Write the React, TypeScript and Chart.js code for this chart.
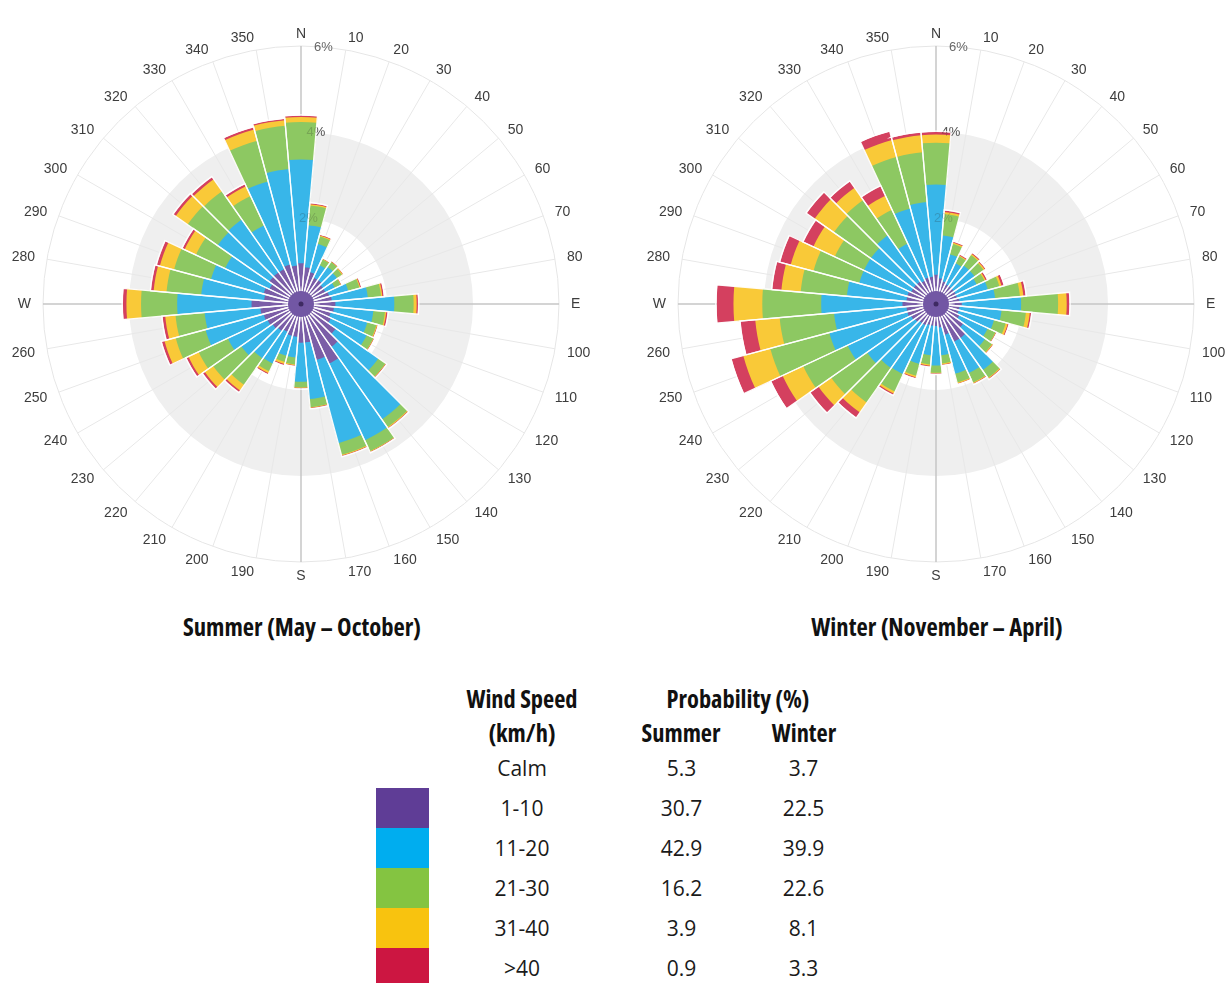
import React, { useEffect, useRef } from 'react';
import { Chart, registerables } from 'chart.js';

Chart.register(...registerables);

// ---------- data ----------
const DIRECTION_LABELS = [
  'N', '10', '20', '30', '40', '50', '60', '70', '80', 'E',
  '100', '110', '120', '130', '140', '150', '160', '170', 'S',
  '190', '200', '210', '220', '230', '240', '250', '260', 'W',
  '280', '290', '300', '310', '320', '330', '340', '350',
];

const SPEED_BANDS = ['1-10', '11-20', '21-30', '31-40', '>40'];
const TICK_VALUES = [2, 4, 6];

// Summer (May – October), % per direction and speed band
const SUMMER_1_10 = [0.95, 0.86, 0.77, 0.68, 0.68, 0.63, 0.63, 0.68, 0.72, 0.80, 0.77, 0.72, 0.77, 0.99, 1.22, 1.53, 1.35, 0.90, 0.90, 0.77, 0.77, 0.72, 0.77, 0.81, 0.86, 0.90, 0.95, 1.15, 0.86, 0.90, 0.81, 0.90, 0.90, 0.90, 0.95, 0.90];
const SUMMER_11_20 = [2.41, 0.98, 0.68, 0.32, 0.38, 0.40, 0.24, 0.46, 0.84, 1.37, 0.92, 0.88, 0.92, 1.21, 2.06, 1.97, 2.00, 1.32, 0.91, 0.48, 0.48, 0.81, 0.78, 0.89, 1.02, 1.40, 1.30, 1.73, 1.47, 1.27, 1.14, 1.47, 1.50, 1.12, 2.00, 2.25];
const SUMMER_21_30 = [0.87, 0.46, 0.18, 0.15, 0.14, 0.14, 0.15, 0.27, 0.31, 0.45, 0.27, 0.22, 0.17, 0.20, 0.22, 0.28, 0.28, 0.19, 0.13, 0.16, 0.15, 0.20, 0.75, 0.80, 0.75, 0.72, 0.68, 0.84, 0.81, 0.89, 0.75, 0.85, 0.80, 0.75, 0.98, 1.01];
const SUMMER_31_40 = [0.12, 0.03, 0.02, 0.01, 0.01, 0.02, 0.01, 0.02, 0.03, 0.07, 0.03, 0.02, 0.01, 0.01, 0.02, 0.01, 0.02, 0.01, 0.01, 0.02, 0.05, 0.05, 0.16, 0.24, 0.26, 0.27, 0.24, 0.34, 0.30, 0.34, 0.29, 0.34, 0.34, 0.25, 0.27, 0.13];
const SUMMER_OVER_40 = [0.03, 0.02, 0.02, 0.01, 0.01, 0.01, 0.01, 0.02, 0.03, 0.03, 0.03, 0.01, 0.01, 0.01, 0.01, 0.01, 0.01, 0.01, 0.01, 0.01, 0.02, 0.02, 0.04, 0.05, 0.05, 0.06, 0.06, 0.08, 0.06, 0.07, 0.05, 0.06, 0.06, 0.05, 0.05, 0.03];

// Winter (November – April)
const WINTER_1_10 = [0.68, 0.60, 0.55, 0.51, 0.51, 0.51, 0.51, 0.51, 0.55, 0.60, 0.55, 0.55, 0.60, 0.78, 0.97, 0.97, 0.74, 0.55, 0.51, 0.51, 0.51, 0.55, 0.55, 0.60, 0.64, 0.69, 0.69, 0.78, 0.69, 0.69, 0.64, 0.64, 0.64, 0.60, 0.64, 0.64];
const WINTER_11_20 = [2.10, 1.00, 0.65, 0.54, 0.59, 0.59, 0.54, 0.74, 0.83, 1.38, 0.98, 0.85, 0.73, 0.62, 0.91, 0.81, 0.94, 0.65, 0.92, 0.69, 0.94, 1.25, 1.27, 1.36, 1.63, 1.88, 1.69, 1.89, 1.39, 1.16, 1.21, 1.21, 1.31, 0.95, 1.66, 1.74];
const WINTER_21_30 = [0.97, 0.50, 0.25, 0.18, 0.30, 0.26, 0.20, 0.28, 0.58, 0.86, 0.57, 0.28, 0.20, 0.20, 0.22, 0.24, 0.21, 0.19, 0.17, 0.21, 0.28, 0.45, 0.98, 1.02, 1.14, 1.42, 1.27, 1.37, 1.08, 1.10, 0.75, 1.05, 1.00, 0.87, 1.24, 1.16];
const WINTER_31_40 = [0.19, 0.05, 0.03, 0.02, 0.03, 0.03, 0.03, 0.05, 0.08, 0.20, 0.09, 0.05, 0.01, 0.02, 0.02, 0.02, 0.02, 0.02, 0.01, 0.03, 0.04, 0.05, 0.28, 0.36, 0.53, 0.65, 0.57, 0.67, 0.45, 0.55, 0.55, 0.55, 0.35, 0.36, 0.41, 0.40];
const WINTER_OVER_40 = [0.06, 0.03, 0.02, 0.02, 0.02, 0.02, 0.03, 0.05, 0.05, 0.06, 0.03, 0.02, 0.01, 0.01, 0.01, 0.01, 0.01, 0.01, 0.01, 0.02, 0.02, 0.03, 0.14, 0.23, 0.29, 0.28, 0.34, 0.39, 0.21, 0.25, 0.25, 0.22, 0.18, 0.24, 0.20, 0.06];

// table
const TABLE_SPEEDS = ['Calm', '1-10', '11-20', '21-30', '31-40', '>40'];
const TABLE_SUMMER = ['5.3', '30.7', '42.9', '16.2', '3.9', '0.9'];
const TABLE_WINTER = ['3.7', '22.5', '39.9', '22.6', '8.1', '3.3'];

// ---------- styles ----------
const BAR_COLORS = ['#7b5ea7', '#38b6e9', '#8dc862', '#f9c938', '#d4405f'];
const SWATCH_COLORS = ['#5f3d96', '#00adef', '#84c441', '#f8c30f', '#cc1641'];

const roseDecor = {
  id: 'roseDecor',
  beforeDatasetsDraw(chart: any) {
    const scale = chart.scales.r;
    const ctx = chart.ctx;
    const cx = scale.xCenter;
    const cy = scale.yCenter;
    const r2 = scale.getDistanceFromCenterForValue(2);
    const r4 = scale.getDistanceFromCenterForValue(4);
    const r6 = scale.getDistanceFromCenterForValue(6);
    const labels: string[] = chart.data.labels;
    const step = (Math.PI * 2) / labels.length;
    ctx.save();
    // plot band 2%–4%
    ctx.beginPath();
    ctx.arc(cx, cy, r4, 0, Math.PI * 2);
    ctx.arc(cx, cy, r2, 0, Math.PI * 2, true);
    ctx.fillStyle = '#efefef';
    ctx.fill('evenodd');
    // outer circle
    ctx.beginPath();
    ctx.arc(cx, cy, r6, 0, Math.PI * 2);
    ctx.strokeStyle = '#e6e6e6';
    ctx.lineWidth = 1;
    ctx.stroke();
    // radial lines
    labels.forEach((_l, i) => {
      const a = scale.getIndexAngle(i) + step / 2 - Math.PI / 2;
      const main = i % 9 === 0;
      ctx.beginPath();
      ctx.moveTo(cx, cy);
      ctx.lineTo(cx + Math.cos(a) * r6, cy + Math.sin(a) * r6);
      ctx.strokeStyle = main ? '#c6c6c6' : '#e8e8e8';
      ctx.lineWidth = main ? 1.5 : 1;
      ctx.stroke();
    });
    // direction labels
    ctx.font = '14px "Liberation Sans", Arial, sans-serif';
    ctx.fillStyle = '#3d3d3d';
    ctx.textBaseline = 'middle';
    labels.forEach((lab, i) => {
      const a = scale.getIndexAngle(i) + step / 2 - Math.PI / 2;
      const rr = r6 + 12;
      const x = cx + Math.cos(a) * rr;
      const y = cy + Math.sin(a) * rr;
      const dir = i * 10;
      ctx.textAlign = dir === 0 || dir === 180 ? 'center' : dir < 180 ? 'left' : 'right';
      ctx.fillText(lab, x, y + (dir > 90 && dir < 270 ? 2 : 0));
    });
    // tick labels
    ctx.font = '13px "Liberation Sans", Arial, sans-serif';
    ctx.fillStyle = '#666666';
    ctx.textAlign = 'center';
    TICK_VALUES.forEach((v) => {
      const p = scale.getPointPositionForValue(1, v);
      ctx.fillText(v + '%', p.x, p.y);
    });
    ctx.restore();
  },
  afterDatasetsDraw(chart: any) {
    const scale = chart.scales.r;
    const ctx = chart.ctx;
    ctx.save();
    // hub where the spokes meet
    ctx.beginPath();
    ctx.arc(scale.xCenter, scale.yCenter, 13, 0, Math.PI * 2);
    ctx.fillStyle = '#7257a4';
    ctx.fill();
    ctx.beginPath();
    ctx.arc(scale.xCenter, scale.yCenter, 2.5, 0, Math.PI * 2);
    ctx.fillStyle = '#3e2a62';
    ctx.fill();
    ctx.font = '13px "Liberation Sans", Arial, sans-serif';
    ctx.fillStyle = 'rgba(40,40,40,0.22)';
    ctx.textAlign = 'center';
    ctx.textBaseline = 'middle';
    TICK_VALUES.slice(0, 2).forEach((v) => {
      const p = scale.getPointPositionForValue(1, v);
      ctx.fillText(v + '%', p.x, p.y);
    });
    ctx.restore();
  },
};

function cumulative(bands: number[][]): number[][] {
  const out: number[][] = [];
  let run = bands[0].map(() => 0);
  bands.forEach((b) => {
    run = run.map((v, i) => v + b[i]);
    out.push(run.slice());
  });
  return out;
}

function WindRose({ bands, left, top }: { bands: number[][]; left: number; top: number }) {
  const ref = useRef<HTMLCanvasElement | null>(null);
  useEffect(() => {
    if (!ref.current) return;
    const cum = cumulative(bands);
    const totals = cum[cum.length - 1];
    const datasets: any[] = cum.map((d, k) => ({
      label: SPEED_BANDS[k],
      data: d,
      backgroundColor: BAR_COLORS[k],
      borderWidth: 0,
      order: k + 1,
    }));
    datasets.push({
      label: 'gap',
      data: totals.map((t) => t + 0.02),
      backgroundColor: 'rgba(0,0,0,0)',
      borderColor: 'rgba(255,255,255,0.95)',
      borderWidth: 1.3,
      borderJoinStyle: 'miter',
      order: 0,
    });
    const chart = new Chart(ref.current, {
      type: 'polarArea',
      data: { labels: DIRECTION_LABELS, datasets },
      options: {
        responsive: false,
        animation: false,
        devicePixelRatio: 1,
        events: [],
        layout: { padding: 42 },
        plugins: { legend: { display: false }, tooltip: { enabled: false } },
        scales: {
          r: {
            min: 0,
            max: 6,
            startAngle: -5,
            ticks: { display: false, stepSize: 2 },
            grid: { display: false },
            angleLines: { display: false },
            pointLabels: { display: false },
          },
        },
      } as any,
      plugins: [roseDecor],
    });
    return () => chart.destroy();
  }, [bands]);
  return (
    <canvas
      ref={ref}
      width={600}
      height={600}
      style={{ position: 'absolute', left, top, width: 600, height: 600 }}
    />
  );
}

const SUMMER_BANDS = [SUMMER_1_10, SUMMER_11_20, SUMMER_21_30, SUMMER_31_40, SUMMER_OVER_40];
const WINTER_BANDS = [WINTER_1_10, WINTER_11_20, WINTER_21_30, WINTER_31_40, WINTER_OVER_40];

const headFont: React.CSSProperties = {
  fontFamily: '"Open Sans", sans-serif',
  fontWeight: 700,
  fontStretch: 'condensed',
  fontSize: 24.4,
  color: '#111',
};
const bodyFont: React.CSSProperties = {
  fontFamily: '"Open Sans", sans-serif',
  fontWeight: 400,
  fontSize: 21,
  color: '#1a1a1a',
};

function T({ x, y, s, children }: { x: number; y: number; s: React.CSSProperties; children: React.ReactNode }) {
  return (
    <div
      style={{
        position: 'absolute',
        left: x,
        top: y,
        transform: 'translate(-50%, -50%)',
        whiteSpace: 'nowrap',
        lineHeight: 1,
        ...s,
      }}
    >
      {children}
    </div>
  );
}

export default function App() {
  return (
    <div
      style={{
        position: 'absolute',
        left: 0,
        top: 0,
        width: 1232,
        height: 983,
        background: '#ffffff',
        overflow: 'hidden',
      }}
    >
      <WindRose bands={SUMMER_BANDS} left={1} top={4} />
      <WindRose bands={WINTER_BANDS} left={636} top={4} />
      <T x={302} y={627} s={{ ...headFont, fontSize: 24.6 }}>Summer (May – October)</T>
      <T x={937} y={627} s={{ ...headFont, fontSize: 24.6 }}>Winter (November – April)</T>

      <T x={522} y={699} s={headFont}>Wind Speed</T>
      <T x={522} y={733} s={headFont}>(km/h)</T>
      <T x={738} y={699} s={headFont}>Probability (%)</T>
      <T x={681} y={733} s={headFont}>Summer</T>
      <T x={804} y={733} s={headFont}>Winter</T>

      {TABLE_SPEEDS.map((sp, k) => (
        <React.Fragment key={sp}>
          {k > 0 && (
            <div
              style={{
                position: 'absolute',
                left: 376,
                top: 788 + (k - 1) * 40,
                width: 53,
                height: 40,
                background: SWATCH_COLORS[k - 1],
              }}
            />
          )}
          <T x={522} y={768 + k * 40} s={bodyFont}>{sp}</T>
          <T x={681.5} y={768 + k * 40} s={bodyFont}>{TABLE_SUMMER[k]}</T>
          <T x={803.5} y={768 + k * 40} s={bodyFont}>{TABLE_WINTER[k]}</T>
        </React.Fragment>
      ))}
    </div>
  );
}
